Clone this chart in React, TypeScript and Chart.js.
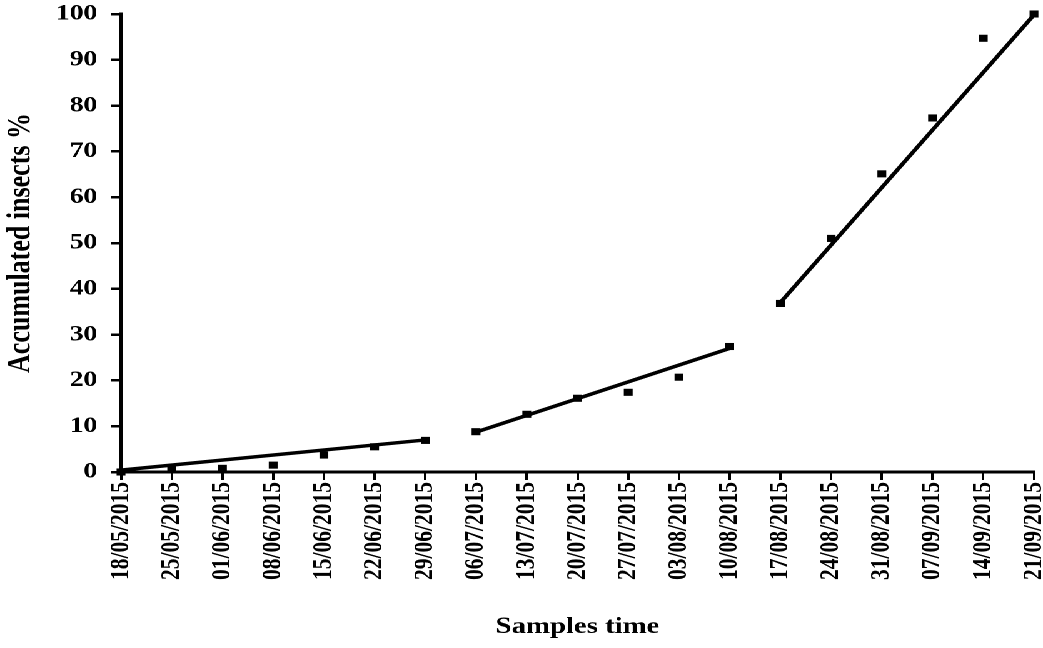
import React, { useEffect, useRef } from "react";
import { Chart, registerables } from "chart.js";

Chart.register(...registerables);

const dateLabels: string[] = [
  "18/05/2015", "25/05/2015", "01/06/2015", "08/06/2015", "15/06/2015",
  "22/06/2015", "29/06/2015", "06/07/2015", "13/07/2015", "20/07/2015",
  "27/07/2015", "03/08/2015", "10/08/2015", "17/08/2015", "24/08/2015",
  "31/08/2015", "07/09/2015", "14/09/2015", "21/09/2015",
];

const accumulatedPct: number[] = [
  0, 0.5, 0.8, 1.5, 3.7, 5.5, 6.9, 8.8, 12.6, 16.1, 17.4, 20.7, 27.4,
  36.8, 51.0, 65.1, 77.3, 94.7, 100,
];

// Trend line end points: [startIndex, endIndex], [startValue, endValue]
const trend1Idx: number[] = [0, 6];
const trend1Val: number[] = [0.4, 7.0];
const trend2Idx: number[] = [7, 12];
const trend2Val: number[] = [8.7, 27.0];
const trend3Idx: number[] = [13, 18];
const trend3Val: number[] = [37.0, 99.8];

const yTicks: number[] = [0, 10, 20, 30, 40, 50, 60, 70, 80, 90, 100];

const SX = 1043 / 834;
const W = 834;
const H = 648;

function trendSeries(idx: number[], val: number[]): (number | null)[] {
  const arr: (number | null)[] = dateLabels.map(() => null);
  arr[idx[0]] = val[0];
  arr[idx[1]] = val[1];
  return arr;
}

const FONT = "'Liberation Serif', 'Times New Roman', serif";

export default function App() {
  const ref = useRef<HTMLCanvasElement | null>(null);

  useEffect(() => {
    document.body.style.overflow = "hidden";
    const canvas = ref.current;
    if (!canvas) return;
    const trendStyle = {
      type: "line" as const,
      borderColor: "#000",
      backgroundColor: "#000",
      borderWidth: 3.5,
      pointRadius: 0,
      pointHoverRadius: 0,
      spanGaps: true,
      fill: false,
      clip: false as const,
    };
    const chart = new Chart(canvas, {
      type: "line",
      data: {
        labels: dateLabels,
        datasets: [
          {
            label: "Accumulated insects %",
            data: accumulatedPct,
            showLine: false,
            pointStyle: "rect",
            pointRadius: 5,
            pointHoverRadius: 5,
            pointBackgroundColor: "#000",
            pointBorderColor: "#000",
            pointBorderWidth: 0,
            borderColor: "#000",
            backgroundColor: "#000",
            clip: false,
          },
          { ...trendStyle, label: "trend 1", data: trendSeries(trend1Idx, trend1Val) },
          { ...trendStyle, label: "trend 2", data: trendSeries(trend2Idx, trend2Val) },
          { ...trendStyle, label: "trend 3", data: trendSeries(trend3Idx, trend3Val) },
        ],
      },
      options: {
        responsive: false,
        animation: false,
        devicePixelRatio: 2,
        layout: { padding: { top: 14, right: W - 1034 / SX, left: 0, bottom: 0 } },
        plugins: {
          legend: { display: false },
          tooltip: { enabled: false },
          title: { display: false },
        },
        scales: {
          x: {
            type: "category",
            offset: false,
            grid: {
              display: true,
              drawOnChartArea: false,
              drawTicks: true,
              tickLength: 8,
              color: "#000",
              lineWidth: 2,
              offset: false,
            },
            border: { display: true, color: "#000", width: 3 },
            ticks: {
              autoSkip: false,
              maxRotation: 90,
              minRotation: 90,
              padding: 2,
              color: "#000",
              font: { family: FONT, size: 21.5, weight: "bold" },
            },
            title: {
              display: true,
              text: "Samples time",
              color: "#000",
              font: { family: FONT, size: 23, weight: "bold" },
              padding: { top: 0, bottom: 7 },
            },
            afterFit: (scale: any) => {
              scale.height = H - 472;
              scale.paddingLeft = 0;
              scale.paddingRight = 0;
            },
          },
          y: {
            min: 0,
            max: 100,
            afterBuildTicks: (scale: any) => {
              scale.ticks = yTicks.map((v) => ({ value: v }));
            },
            grid: {
              display: true,
              drawOnChartArea: false,
              drawTicks: true,
              tickLength: 8,
              color: "#000",
              lineWidth: 2.5,
            },
            border: { display: true, color: "#000", width: 3 },
            ticks: {
              padding: 11,
              color: "#000",
              font: { family: FONT, size: 22, weight: "bold" },
            },
            title: {
              display: true,
              text: "Accumulated insects %",
              color: "#000",
              font: { family: FONT, size: 26, weight: "bold" },
              padding: { top: 1, bottom: 0 },
            },
            afterFit: (scale: any) => {
              scale.width = 121 / SX;
              scale.paddingTop = 0;
              scale.paddingBottom = 0;
            },
          },
        },
      },
    });
    return () => chart.destroy();
  }, []);

  return (
    <div
      style={{
        position: "absolute",
        left: 0,
        top: 0,
        width: W,
        height: H,
        transform: `scaleX(${SX})`,
        transformOrigin: "0 0",
        background: "#fff",
      }}
    >
      <canvas ref={ref} width={W} height={H} style={{ display: "block" }} />
    </div>
  );
}
